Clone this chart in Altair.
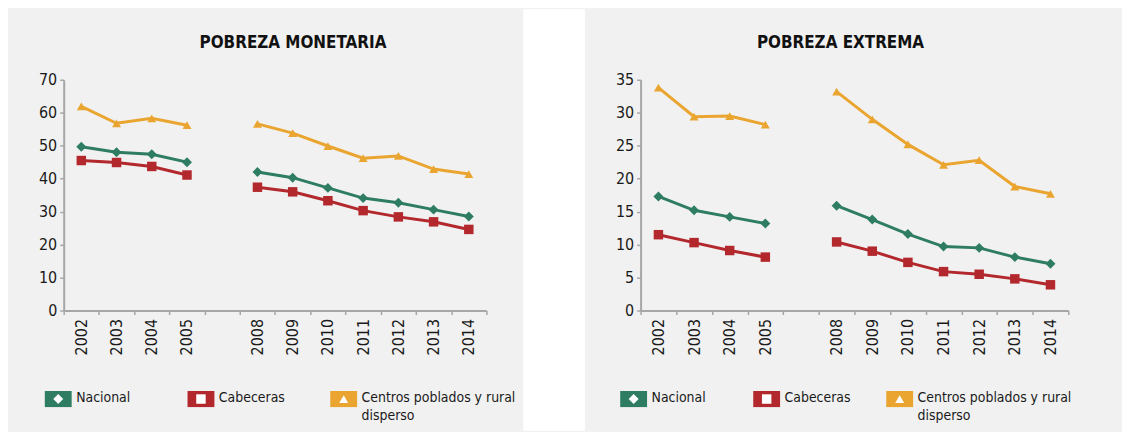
import altair as alt
import pandas as pd

# ---------------- data ----------------
years = ["2002", "2003", "2004", "2005", "2008", "2009", "2010", "2011", "2012", "2013", "2014"]
x_domain = ["2002", "2003", "2004", "2005", " ", "2008", "2009", "2010", "2011", "2012", "2013", "2014"]
series = ["Nacional", "Cabeceras", "Centros poblados y rural disperso"]
legend_labels = ["Nacional", "Cabeceras", "Centros poblados y rural\ndisperso"]

mon_nacional = [49.7, 48.0, 47.4, 45.0, 42.0, 40.3, 37.2, 34.1, 32.7, 30.6, 28.5]
mon_cabeceras = [45.5, 44.9, 43.7, 41.1, 37.4, 36.0, 33.3, 30.3, 28.4, 26.9, 24.6]
mon_rural = [61.9, 56.8, 58.3, 56.2, 56.6, 53.8, 49.9, 46.2, 46.9, 42.9, 41.4]

ext_nacional = [17.3, 15.2, 14.2, 13.2, 15.9, 13.8, 11.6, 9.7, 9.5, 8.1, 7.1]
ext_cabeceras = [11.5, 10.3, 9.1, 8.1, 10.4, 9.0, 7.3, 5.9, 5.5, 4.8, 3.9]
ext_rural = [33.8, 29.4, 29.5, 28.2, 33.2, 29.0, 25.2, 22.1, 22.8, 18.8, 17.7]

colors = ["#2e7d62", "#b3282d", "#eaa530"]
shapes = ["diamond", "square", "triangle-up"]
sizes = [100, 81, 150]

FONT = "Liberation Sans Narrow, DejaVu Sans Condensed, Roboto Condensed, Arial Narrow, sans-serif"
BG = "#f1f1f1"
AXIS_GRAY = "#a6a6a6"
TEXT = "#1a1a1a"


def long_df(vals):
    rows = []
    for name, arr in zip(series, vals):
        for y, v in zip(years, arr):
            rows.append({"year": y, "value": v, "serie": name,
                         "period": "a" if int(y) <= 2005 else "b"})
    return pd.DataFrame(rows)


color_scale = alt.Scale(domain=series, range=colors)
shape_scale = alt.Scale(domain=series, range=shapes)
size_scale = alt.Scale(domain=series, range=sizes)


def line_panel(df, ymax, ystep, title, dx, width):
    x = alt.X("year:O", sort=x_domain,
              scale=alt.Scale(domain=x_domain, type="band", paddingInner=0, paddingOuter=0),
              axis=alt.Axis(title=None, labelAngle=-90, tickBand="extent", labelFont=FONT,
                            labelFontSize=16, labelColor=TEXT, labelPadding=4,
                            domainColor=AXIS_GRAY, domainWidth=2, tickColor=AXIS_GRAY,
                            tickWidth=1.5, tickSize=4, grid=False))
    y = alt.Y("value:Q", scale=alt.Scale(domain=[0, ymax], nice=False),
              axis=alt.Axis(title=None, values=list(range(0, ymax + 1, ystep)), labelFont=FONT,
                            labelFontSize=16, labelColor=TEXT, labelPadding=3,
                            domainColor=AXIS_GRAY, domainWidth=2, tickColor=AXIS_GRAY,
                            tickWidth=1.5, tickSize=4, grid=False))
    color = alt.Color("serie:N", scale=color_scale, legend=None)
    base = alt.Chart(df).encode(x=x, y=y, color=color)
    lines = base.mark_line(strokeWidth=3).encode(detail="period:N")
    pts = base.mark_point(filled=True, opacity=1).encode(
        shape=alt.Shape("serie:N", scale=shape_scale, legend=None),
        size=alt.Size("serie:N", scale=size_scale, legend=None))
    return (lines + pts).properties(
        width=width, height=232,
        title=alt.TitleParams(text=title, font=FONT, fontSize=17, fontWeight="bold",
                              color="#111111", anchor="middle", dx=dx, offset=20),
    )


def legend_panel(rng, width):
    ldf = pd.DataFrame({"serie": series, "label": legend_labels})
    x = alt.X("serie:N", sort=series,
              scale=alt.Scale(domain=series, range=rng, padding=0), axis=None)
    color = alt.Color("serie:N", scale=color_scale, legend=None)
    rect_path = "M-1,-0.6L1,-0.6L1,0.6L-1,0.6Z"
    base = alt.Chart(ldf).encode(x=x)
    rect = base.mark_point(shape=rect_path, filled=True, opacity=1, size=729, strokeWidth=0).encode(color=color)
    inner = base.mark_point(filled=True, opacity=1, color="white").encode(
        shape=alt.Shape("serie:N", scale=shape_scale, legend=None),
        size=alt.Size("serie:N", scale=size_scale, legend=None))
    txt = base.mark_text(align="left", baseline="top", dx=18, dy=-8, font=FONT, fontSize=14,
                         color=TEXT, lineBreak="\n", lineHeight=18).encode(text="label:N")
    return (rect + inner + txt).properties(width=width, height=24)


left = alt.vconcat(
    line_panel(long_df([mon_nacional, mon_cabeceras, mon_rural]), 70, 10, "POBREZA MONETARIA", 18, 425),
    legend_panel([-5.5, 281.5], 450),
    spacing=77, bounds="flush",
)
right = alt.vconcat(
    line_panel(long_df([ext_nacional, ext_cabeceras, ext_rural]), 35, 5, "POBREZA EXTREMA", -14, 430),
    legend_panel([-7, 260.5], 484),
    spacing=77, bounds="flush",
)

spacer = alt.Chart(pd.DataFrame({"a": [0]})).mark_rect(color="white").encode(
    x=alt.value(0), x2=alt.value(62), y=alt.value(-71), y2=alt.value(353)
).properties(width=62, height=232)

chart = alt.hconcat(
    left,
    alt.hconcat(spacer, right, spacing=30),
    spacing=7,
).properties(
    background=BG,
    padding={"left": 30, "top": 0, "right": 0, "bottom": 0},
).configure_view(strokeWidth=0)

chart.save("out.html", embed_options={"renderer": "svg", "actions": False})
